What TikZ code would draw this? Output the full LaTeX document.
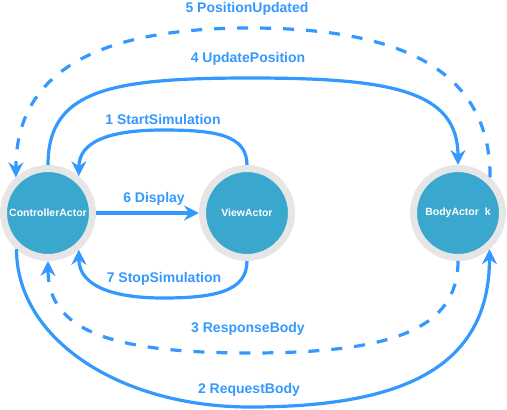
\documentclass[tikz,border=0pt]{standalone}
\usepackage{fontspec}
\setmainfont{Liberation Sans}
\usepackage{xcolor}
\usetikzlibrary{arrows.meta}
\definecolor{msgblue}{HTML}{3399FF}
\definecolor{actorfill}{HTML}{3AA7CE}
\definecolor{actorring}{HTML}{E6E6E6}

\begin{document}
\begin{tikzpicture}[x=1pt,y=-1pt,
	actor/.style={circle,fill=actorfill,draw=actorring,line width=7pt,minimum size=89pt,inner sep=0pt,text=white,font=\fontsize{10.5}{12}\selectfont\bfseries},
	msg/.style={draw=msgblue,line width=3.2pt,-{Stealth[length=15pt,width=15pt,inset=5pt]}},
	reply/.style={msg,dash pattern=on 11pt off 12pt},
	lbl/.style={text=msgblue,font=\fontsize{14}{16}\selectfont\bfseries}]
			\useasboundingbox (0,0) rectangle (507,410);
			\node[actor] (ctrl) at (48,213) {ControllerActor};
			\node[actor] (view) at (247,213) {ViewActor};
			\node[actor] (body) at (458,213) {BodyActor~~k};
			\draw[msg] (view.north) .. controls +(0,-30) and +(53,0) .. (163,130) .. controls +(-53,0) and +(0,-35) .. (ctrl.50);
			\draw[msg] (ctrl.-131) .. controls +(0,90) and +(-130,0) .. (250,407) .. controls +(150,0) and +(0,120) .. (body.-49);
			\draw[reply] (body.south) .. controls +(0,69) and +(140,0) .. (250,353) .. controls +(-140,0) and +(0,69) .. (ctrl.south);
			\draw[msg] (ctrl.north) .. controls +(0,-75) and +(-140,0) .. (250,78) .. controls +(140,0) and +(0,-75) .. (body.north);
			\draw[reply] (body.48) .. controls +(0,-108) and +(150,0) .. (250,28) .. controls +(-150,0) and +(0,-107) .. (ctrl.132);
			\draw[msg] (ctrl) -- (view);
			\draw[msg] (view.south) .. controls +(0,30) and +(53,0) .. (163,298) .. controls +(-53,0) and +(0,35) .. (ctrl.-50);
			\node[lbl] (startsim) at (163,119) {1 StartSimulation};
			\node[lbl] (reqbody) at (249,390) {2 RequestBody};
			\node[lbl] (respbody) at (248,329) {3 ResponseBody};
			\node[lbl] (updpos) at (248,59) {4 UpdatePosition};
			\node[lbl] (posupd) at (247,9) {5 PositionUpdated};
			\node[lbl] (display) at (154,199) {6 Display};
			\node[lbl] (stopsim) at (164,279) {7 StopSimulation};
		\end{tikzpicture}
\end{document}
